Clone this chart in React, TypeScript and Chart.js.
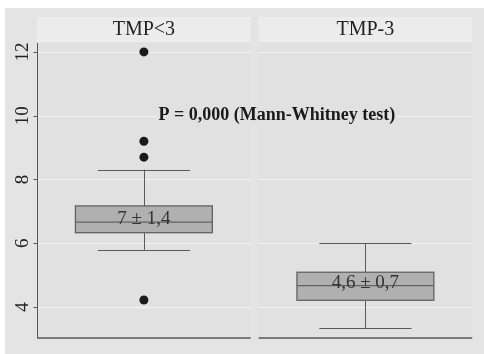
import { useEffect, useRef } from "react";
import { Chart, registerables } from "chart.js";
Chart.register(...registerables);

const panels = ["TMP<3", "TMP-3"];
const whiskerLow = [5.79, 3.33];
const q1 = [6.33, 4.21];
const median = [6.66, 4.67];
const q3 = [7.17, 5.09];
const whiskerHigh = [8.31, 6.0];
const outliers = [[12.0, 9.2, 8.7, 4.22], []];
const boxLabels = ["7 ± 1,4", "4,6 ± 0,7"];
const yTicks = [4, 6, 8, 10, 12];
const pText = "P = 0,000 (Mann-Whitney test)";
const pTextPos = { x: 0.6, y: 10 };

const PANEL_HALF = 0.4825;
const BOX_HALF = 0.309;
const CAP_HALF = 0.208;
const SERIF = "'Liberation Serif', 'DejaVu Serif', serif";

const facetPlugin = {
  id: "facet",
  beforeDraw(chart: any) {
    const { ctx, chartArea, scales } = chart;
    const xs = scales.x, ys = scales.y;
    ctx.save();
    ctx.fillStyle = "#ffffff";
    ctx.fillRect(0, 0, chart.width, chart.height);
    ctx.fillStyle = "#e4e4e4";
    ctx.fillRect(5, 8, chart.width - 5, chart.height - 8);
    panels.forEach((name, i) => {
      const l = xs.getPixelForValue(i - PANEL_HALF);
      const r = xs.getPixelForValue(i + PANEL_HALF);
      ctx.fillStyle = "#e1e1e1";
      ctx.fillRect(l, chartArea.top, r - l, chartArea.bottom - chartArea.top);
      ctx.fillStyle = "#ececec";
      ctx.fillRect(l, 17, r - l, chartArea.top - 18);
      ctx.fillStyle = "#222";
      ctx.font = "20px " + SERIF;
      ctx.textAlign = "center";
      ctx.textBaseline = "middle";
      ctx.fillText(name, (l + r) / 2, 30);
      ctx.strokeStyle = "#f3f3f3";
      ctx.lineWidth = 1;
      yTicks.forEach((t) => {
        const y = Math.round(ys.getPixelForValue(t)) + 0.5;
        ctx.beginPath();
        ctx.moveTo(l, y);
        ctx.lineTo(r, y);
        ctx.stroke();
      });
    });
    ctx.restore();
  },
  beforeDatasetsDraw(chart: any) {
    const { ctx, scales } = chart;
    const xs = scales.x, ys = scales.y;
    ctx.save();
    panels.forEach((_, i) => {
      const cx = Math.round(xs.getPixelForValue(i)) + 0.5;
      const bl = xs.getPixelForValue(i - BOX_HALF);
      const br = xs.getPixelForValue(i + BOX_HALF);
      const cl = xs.getPixelForValue(i - CAP_HALF);
      const cr = xs.getPixelForValue(i + CAP_HALF);
      const yq1 = ys.getPixelForValue(q1[i]);
      const yq3 = ys.getPixelForValue(q3[i]);
      const ym = ys.getPixelForValue(median[i]);
      const ylo = ys.getPixelForValue(whiskerLow[i]);
      const yhi = ys.getPixelForValue(whiskerHigh[i]);
      ctx.strokeStyle = "#5a5a5a";
      ctx.lineWidth = 1;
      ctx.beginPath();
      ctx.moveTo(cx, yhi);
      ctx.lineTo(cx, yq3);
      ctx.moveTo(cx, yq1);
      ctx.lineTo(cx, ylo);
      ctx.moveTo(cl, Math.round(yhi) + 0.5);
      ctx.lineTo(cr, Math.round(yhi) + 0.5);
      ctx.moveTo(cl, Math.round(ylo) + 0.5);
      ctx.lineTo(cr, Math.round(ylo) + 0.5);
      ctx.stroke();
      ctx.fillStyle = "#b0b0b0";
      ctx.fillRect(bl, yq3, br - bl, yq1 - yq3);
      ctx.strokeStyle = "#626262";
      ctx.lineWidth = 1.3;
      ctx.strokeRect(bl, yq3, br - bl, yq1 - yq3);
      ctx.beginPath();
      ctx.moveTo(bl, ym);
      ctx.lineTo(br, ym);
      ctx.stroke();
    });
    ctx.restore();
  },
  afterDatasetsDraw(chart: any) {
    const { ctx, chartArea, scales } = chart;
    const xs = scales.x, ys = scales.y;
    ctx.save();
    ctx.textAlign = "center";
    ctx.textBaseline = "middle";
    ctx.font = "19px " + SERIF;
    ctx.fillStyle = "#333";
    panels.forEach((_, i) => {
      ctx.fillText(boxLabels[i], xs.getPixelForValue(i), ys.getPixelForValue(median[i]) - 3);
    });
    // P annotation
    ctx.font = "bold 18px " + SERIF;
    const px = xs.getPixelForValue(pTextPos.x);
    const py = ys.getPixelForValue(pTextPos.y);
    const w = ctx.measureText(pText).width;
    ctx.fillStyle = "#e1e1e1";
    ctx.fillRect(px - w / 2 - 2, py - 9, w + 4, 18);
    ctx.fillStyle = "#1a1a1a";
    ctx.fillText(pText, px, py);
    // axes
    ctx.strokeStyle = "#555";
    ctx.lineWidth = 1;
    const ax = Math.round(chartArea.left) + 0.5;
    ctx.beginPath();
    ctx.moveTo(ax, chartArea.top);
    ctx.lineTo(ax, chartArea.bottom);
    yTicks.forEach((t) => {
      const y = Math.round(ys.getPixelForValue(t)) + 0.5;
      ctx.moveTo(ax - 4, y);
      ctx.lineTo(ax, y);
    });
    ctx.stroke();
    ctx.strokeStyle = "#7a7a7a";
    ctx.lineWidth = 2;
    panels.forEach((_, i) => {
      const l = xs.getPixelForValue(i - PANEL_HALF);
      const r = xs.getPixelForValue(i + PANEL_HALF);
      ctx.beginPath();
      ctx.moveTo(l, chartArea.bottom);
      ctx.lineTo(r, chartArea.bottom);
      ctx.stroke();
    });
    ctx.font = "19px " + SERIF;
    ctx.fillStyle = "#222";
    yTicks.forEach((t) => {
      const y = ys.getPixelForValue(t);
      ctx.save();
      ctx.translate(23, y);
      ctx.rotate(-Math.PI / 2);
      ctx.fillText(String(t), 0, 0);
      ctx.restore();
    });
    ctx.restore();
  },
};

export default function App() {
  const ref = useRef<HTMLCanvasElement | null>(null);
  useEffect(() => {
    document.body.style.margin = "0";
    if (!ref.current) return;
    const pts: { x: number; y: number }[] = [];
    outliers.forEach((arr, i) => arr.forEach((v) => pts.push({ x: i, y: v })));
    const chart = new Chart(ref.current, {
      type: "scatter",
      data: {
        datasets: [
          {
            data: pts,
            pointRadius: 4.5,
            pointBackgroundColor: "#1a1a1a",
            pointBorderColor: "#1a1a1a",
            pointBorderWidth: 0,
          },
        ],
      },
      options: {
        animation: false,
        responsive: true,
        maintainAspectRatio: false,
        devicePixelRatio: 1,
        layout: { padding: { left: 37, top: 43, right: 12, bottom: 16 } },
        plugins: { legend: { display: false }, tooltip: { enabled: false } },
        scales: {
          x: { type: "linear", min: -0.4826, max: 1.4813, display: false },
          y: { type: "linear", min: 3.027, max: 12.28, display: false },
        },
      },
      plugins: [facetPlugin],
    });
    return () => chart.destroy();
  }, []);
  return (
    <div style={{ width: 484, height: 354, position: "relative" }}>
      <canvas ref={ref} />
    </div>
  );
}
